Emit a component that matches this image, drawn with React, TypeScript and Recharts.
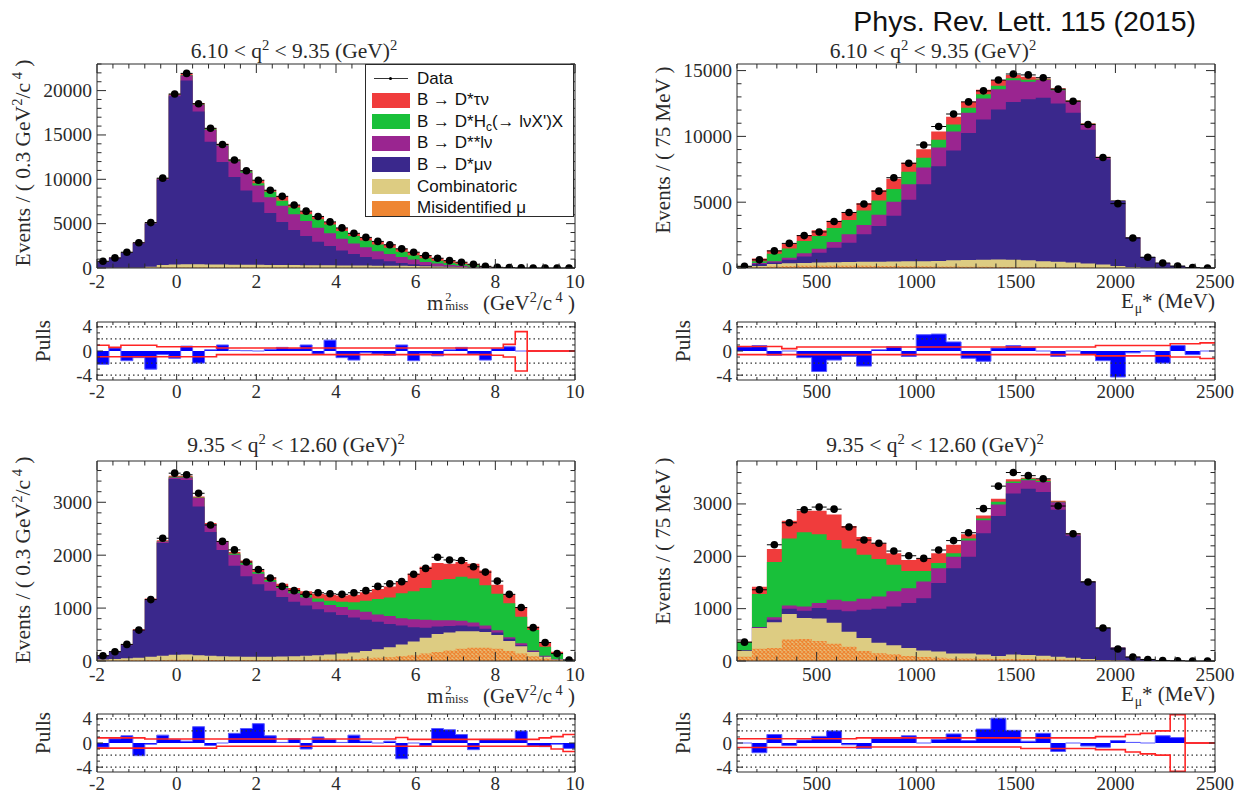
import React from "react";
import {
  ComposedChart,
  Area,
  Line,
  Scatter,
  ErrorBar,
  XAxis,
  YAxis,
  ReferenceLine,
} from "recharts";

// bin edges
const mmEdges = [-2, -1.7, -1.4, -1.1, -0.8, -0.5, -0.2, 0.1, 0.4, 0.7, 1, 1.3, 1.6, 1.9, 2.2, 2.5, 2.8, 3.1, 3.4, 3.7, 4, 4.3, 4.6, 4.9, 5.2, 5.5, 5.8, 6.1, 6.4, 6.7, 7, 7.3, 7.6, 7.9, 8.2, 8.5, 8.8, 9.1, 9.4, 9.7, 10];
const eEdges = [100, 175, 250, 325, 400, 475, 550, 625, 700, 775, 850, 925, 1000, 1075, 1150, 1225, 1300, 1375, 1450, 1525, 1600, 1675, 1750, 1825, 1900, 1975, 2050, 2125, 2200, 2275, 2350, 2425, 2500];

// tick labels
const mmMajor = [-2, 0, 2, 4, 6, 8, 10];
const eMajor = [500, 1000, 1500, 2000, 2500];
const tlYMajor = [0, 5000, 10000, 15000, 20000];
const trYMajor = [0, 5000, 10000, 15000];
const lowYMajor = [0, 1000, 2000, 3000];
const pullMajor = [-4, 0, 4];

// stack edges (top of each layer), 6.10 < q2 < 9.35, m2miss
const tlMisid = [5, 5, 10, 10, 35, 50, 70, 70, 70, 60, 60, 55, 55, 50, 50, 45, 45, 45, 40, 40, 35, 35, 30, 30, 25, 25, 20, 20, 15, 10, 10, 5, 0, 0, 0, 0, 0, 0, 0, 0];
const tlComb = [20, 25, 30, 40, 150, 330, 400, 420, 410, 400, 390, 380, 370, 360, 350, 340, 330, 320, 310, 300, 290, 280, 270, 260, 250, 240, 220, 200, 170, 140, 100, 60, 20, 5, 0, 0, 0, 0, 0, 0];
const tlDmu = [690, 1090, 1720, 2760, 4980, 9950, 19350, 21140, 17650, 14230, 11950, 10250, 8730, 7400, 6190, 5200, 4290, 3600, 2960, 2470, 1970, 1590, 1250, 990, 760, 570, 420, 300, 230, 170, 120, 70, 25, 10, 5, 0, 0, 0, 0, 0];
const tlDss = [710, 1120, 1760, 2820, 5050, 10050, 19500, 21700, 18400, 15560, 13800, 12030, 10740, 9300, 7970, 7020, 6070, 5310, 4550, 3910, 3300, 2770, 2350, 1900, 1590, 1250, 950, 680, 500, 350, 250, 150, 80, 30, 15, 0, 0, 0, 0, 0];
const tlHc = [720, 1130, 1770, 2830, 5070, 10080, 19560, 21760, 18470, 15650, 13900, 12150, 10900, 9560, 8610, 7590, 6830, 6070, 5500, 4900, 4170, 3600, 3110, 2660, 2280, 1820, 1440, 1100, 820, 600, 450, 300, 150, 60, 30, 5, 0, 0, 0, 0];
const tlTau = [740, 1150, 1790, 2860, 5110, 10120, 19620, 21900, 18600, 15770, 14000, 12200, 11000, 9900, 8800, 8080, 7100, 6410, 5810, 5200, 4520, 3910, 3450, 3000, 2620, 2160, 1780, 1400, 1100, 830, 650, 420, 190, 80, 40, 8, 0, 0, 0, 0];
const tlData = [760, 1140, 1780, 2850, 5120, 10130, 19620, 21940, 18520, 15750, 13930, 12180, 10970, 9900, 8770, 8080, 7100, 6410, 5810, 5200, 4520, 3910, 3450, 3000, 2620, 2160, 1780, 1400, 1100, 830, 650, 420, 190, 80, 40, 10, 5, 0, 0, 0];
const tlPull = [-2.2, 0.5, -1.6, -1.1, -3.0, -0.6, -1.2, 0.8, -2.0, 0.2, 1.0, 0.1, 0.05, 0, 0.3, 0.6, 0.4, 1.0, -0.5, 1.8, -1.1, -1.5, -0.3, -0.5, -0.7, 1.0, -1.6, -0.4, -0.8, 0.2, 0.6, -0.5, -1.5, 0.4, 0.7, 0, 0, 0, 0, 0];
const tlBandUp = [0.95, 0.6, 0.95, 0.95, 0.95, 0.7, 0.7, 0.7, 0.7, 0.7, 0.5, 0.5, 0.5, 0.5, 0.5, 0.5, 0.5, 0.5, 0.5, 0.5, 0.5, 0.5, 0.5, 0.5, 0.5, 0.5, 0.5, 0.5, 0.5, 0.5, 0.5, 0.5, 0.5, 0.5, 1.1, 3.2, 0, 0, 0, 0];
const tlBandLo = [-0.95, -0.95, -0.95, -0.95, -0.95, -0.95, -0.95, -0.95, -0.95, -0.95, -0.6, -0.6, -0.6, -0.6, -0.6, -0.6, -0.6, -0.6, -0.6, -0.6, -0.6, -0.6, -0.6, -0.6, -0.6, -0.6, -0.6, -0.6, -0.6, -0.6, -0.6, -0.6, -0.6, -0.7, -1.0, -3.3, 0, 0, 0, 0];

// 6.10 < q2 < 9.35, E_mu*
const trMisid = [20, 60, 120, 150, 170, 180, 180, 180, 170, 160, 150, 140, 130, 120, 110, 100, 90, 80, 70, 60, 50, 40, 30, 30, 20, 10, 5, 0, 0, 0, 0, 0];
const trComb = [40, 150, 310, 360, 380, 410, 440, 460, 470, 480, 500, 510, 520, 540, 580, 600, 620, 640, 620, 580, 520, 480, 420, 350, 260, 150, 60, 20, 0, 0, 0, 0];
const trDmu = [50, 300, 410, 620, 870, 1150, 1540, 1920, 2560, 3200, 3970, 5180, 6360, 7740, 8920, 10260, 11280, 12050, 12620, 12820, 12930, 12500, 11800, 10500, 8250, 5100, 2300, 830, 370, 150, 40, 5];
const trDss = [60, 380, 510, 770, 1130, 1460, 1970, 2560, 3260, 4050, 5030, 6360, 7640, 9150, 10380, 11790, 12870, 13590, 14260, 14150, 14280, 13500, 12650, 10900, 8400, 5130, 2310, 835, 372, 152, 40, 5];
const trHc = [110, 510, 1080, 1490, 2050, 2440, 3030, 3640, 4360, 5130, 6000, 7310, 8380, 9740, 10900, 12180, 13200, 13850, 14410, 14310, 14330, 13580, 12700, 10960, 8430, 5140, 2320, 838, 375, 155, 42, 6];
const trTau = [130, 720, 1330, 1850, 2510, 2870, 3590, 4230, 4920, 5900, 6790, 8000, 9030, 10380, 11490, 12640, 13540, 14280, 14670, 14540, 14400, 13650, 12750, 11000, 8450, 5150, 2330, 840, 380, 160, 42, 8];
const trData = [130, 620, 1300, 1870, 2460, 2740, 3530, 4220, 4860, 5840, 6860, 7960, 9350, 10750, 11700, 12620, 13460, 14280, 14740, 14670, 14460, 13590, 12670, 10900, 8400, 4890, 2280, 820, 380, 150, 30, 0];
const trPull = [0.7, 0.9, -0.7, 0, -1.1, -3.4, -1.5, -0.9, -2.5, 0.2, 0.7, -0.9, 2.7, 2.8, 1.5, -1.2, -1.7, 0.5, 0.9, 0.6, 0, -0.9, 0, -0.6, -1.6, -4.3, -0.3, 0, -2.0, 0.9, -0.6, 0];
const trBandUp = [0.75, 0.75, 0.75, 0.4, 0.65, 0.65, 0.65, 0.65, 0.65, 0.65, 0.65, 0.65, 0.65, 0.65, 0.65, 0.65, 0.65, 0.65, 0.65, 0.65, 0.65, 0.65, 0.65, 0.65, 0.9, 0.9, 0.9, 0.9, 0.9, 1.2, 1.2, 1.35];
const trBandLo = [-0.6, -0.6, -0.6, -0.6, -0.6, -0.6, -0.6, -0.6, -0.6, -0.6, -0.6, -0.6, -0.6, -0.6, -0.6, -0.6, -0.6, -0.6, -0.6, -0.6, -0.6, -0.6, -0.6, -0.6, -0.8, -0.8, -0.8, -0.8, -0.8, -1.0, -1.0, -1.25];

// 9.35 < q2 < 12.60, m2miss
const blMisid = [10, 10, 15, 15, 20, 20, 25, 25, 25, 20, 20, 20, 20, 20, 20, 20, 20, 20, 25, 30, 35, 40, 50, 60, 70, 90, 110, 140, 170, 200, 230, 250, 250, 230, 190, 140, 90, 45, 15, 2];
const blComb = [30, 40, 50, 60, 80, 100, 120, 125, 110, 100, 90, 85, 80, 80, 80, 85, 90, 100, 110, 125, 140, 160, 190, 220, 260, 310, 370, 440, 510, 540, 560, 560, 550, 490, 380, 280, 170, 80, 30, 3];
const blDmu = [95, 170, 300, 570, 1150, 2230, 3440, 3420, 2920, 2440, 2100, 1800, 1600, 1450, 1330, 1210, 1120, 1050, 980, 920, 870, 820, 780, 740, 700, 670, 640, 630, 650, 660, 670, 650, 610, 540, 420, 300, 180, 85, 35, 5];
const blDss = [100, 175, 310, 585, 1165, 2260, 3470, 3470, 3080, 2580, 2250, 2010, 1820, 1650, 1500, 1380, 1280, 1200, 1120, 1060, 1020, 970, 930, 880, 850, 810, 790, 780, 770, 770, 760, 730, 670, 580, 450, 335, 200, 100, 40, 5];
const blHc = [100, 175, 310, 585, 1165, 2265, 3480, 3480, 3090, 2590, 2260, 2030, 1850, 1680, 1530, 1410, 1320, 1250, 1180, 1140, 1120, 1110, 1140, 1170, 1200, 1280, 1320, 1380, 1530, 1550, 1590, 1560, 1430, 1270, 1090, 835, 585, 270, 130, 20];
const blTau = [105, 180, 320, 600, 1180, 2280, 3500, 3500, 3110, 2610, 2270, 2060, 1900, 1720, 1580, 1460, 1380, 1320, 1270, 1250, 1240, 1250, 1300, 1360, 1410, 1500, 1650, 1780, 1850, 1840, 1870, 1840, 1710, 1440, 1260, 1020, 650, 350, 175, 25];
const blData = [100, 176, 314, 584, 1160, 2320, 3550, 3520, 3170, 2570, 2260, 2100, 1870, 1730, 1570, 1410, 1330, 1260, 1290, 1270, 1260, 1290, 1330, 1410, 1460, 1500, 1640, 1750, 1960, 1910, 1900, 1780, 1680, 1510, 1260, 1010, 630, 350, 140, 20];
const blPull = [-0.7, 0.7, 1.2, -2.1, -0.2, 1.3, 0.6, 0.3, 2.7, -0.4, 0, 1.6, 2.4, 3.2, 1.2, 0.1, 0.7, -1.0, 1.0, 0.6, 0.1, 1.3, 0.3, 0, 0.3, -2.6, 0, -0.5, 2.4, 2.2, 1.4, -1.1, 0.6, 0.6, 0.6, 2.0, -0.5, -0.6, -0.2, -0.9];
const blBandUp = [0.85, 0.85, 0.85, 0.85, 0.65, 0.65, 0.65, 0.65, 0.65, 0.65, 0.65, 0.65, 0.65, 0.65, 0.65, 0.65, 0.65, 0.65, 0.65, 0.65, 0.65, 0.65, 0.65, 0.65, 0.65, 0.9, 0.6, 0.6, 0.6, 0.6, 0.6, 0.6, 0.6, 0.6, 0.6, 0.6, 0.6, 0.85, 1.05, 1.4];
const blBandLo = [-0.85, -0.85, -0.85, -0.85, -0.85, -0.85, -0.85, -0.85, -0.85, -0.85, -0.55, -0.55, -0.55, -0.55, -0.55, -0.55, -0.55, -0.55, -0.55, -0.55, -0.55, -0.55, -0.55, -0.55, -0.55, -0.55, -0.55, -0.55, -0.55, -0.55, -0.55, -0.55, -0.55, -0.55, -0.55, -0.55, -0.55, -0.55, -1.0, -1.4];

// 9.35 < q2 < 12.60, E_mu*
const brMisid = [80, 235, 250, 410, 420, 380, 330, 270, 190, 150, 130, 95, 75, 60, 50, 50, 45, 40, 40, 40, 35, 30, 25, 15, 10, 5, 0, 0, 0, 0, 0, 0];
const brComb = [190, 630, 740, 900, 820, 810, 730, 560, 440, 350, 300, 250, 200, 180, 145, 145, 125, 95, 125, 115, 100, 80, 60, 40, 20, 10, 3, 0, 0, 0, 0, 0];
const brDmu = [200, 640, 790, 1000, 960, 1010, 980, 950, 980, 1000, 1040, 1110, 1200, 1490, 1770, 1990, 2440, 2770, 3200, 3290, 3230, 2890, 2390, 1510, 630, 255, 78, 30, 10, 5, 0, 0];
const brDss = [200, 650, 835, 1060, 1040, 1110, 1170, 1140, 1190, 1230, 1330, 1390, 1520, 1770, 1990, 2300, 2690, 2990, 3400, 3450, 3420, 3030, 2420, 1520, 635, 257, 79, 30, 10, 5, 0, 0];
const brHc = [360, 1280, 1890, 2340, 2460, 2420, 2310, 2150, 2030, 1950, 1840, 1720, 1720, 1870, 2060, 2340, 2720, 3040, 3430, 3480, 3440, 3040, 2430, 1525, 638, 258, 79, 30, 10, 5, 0, 0];
const brTau = [370, 1420, 2140, 2680, 2870, 2870, 2800, 2580, 2370, 2250, 2060, 1930, 1960, 2060, 2220, 2420, 2780, 3100, 3470, 3500, 3470, 3060, 2440, 1530, 640, 260, 80, 30, 10, 5, 0, 0];
const brData = [360, 1360, 2220, 2640, 2890, 2940, 2900, 2560, 2310, 2250, 2100, 2010, 1960, 2120, 2300, 2450, 2910, 3340, 3600, 3540, 3480, 2960, 2430, 1510, 630, 230, 75, 30, 10, 5, 0, 0];
const brPull = [0, -1.6, 1.4, -0.4, 0.5, 1.1, 2.0, -0.3, -0.9, 0.8, 0.8, 1.2, 0, 0.6, 1.5, 0.4, 2.3, 4.1, 2.1, 0.3, 1.6, -1.4, 0, -0.5, -0.7, 0.4, 0.1, 0, 1.2, 0.9, 0, 0];
const brBandUp = [0.7, 0.7, 0.7, 0.7, 0.7, 0.7, 0.7, 0.7, 0.85, 0.85, 0.85, 0.85, 0.85, 0.85, 0.85, 0.85, 0.85, 0.85, 0.85, 0.85, 0.85, 0.85, 0.85, 0.85, 1.05, 1.05, 1.4, 1.6, 2.0, 4.7, 0, 0];
const brBandLo = [-0.75, -0.75, -0.75, -0.75, -0.75, -0.75, -0.75, -0.75, -0.65, -0.65, -0.65, -0.65, -0.65, -0.65, -0.65, -0.65, -0.65, -0.65, -0.65, -0.9, -0.9, -0.9, -0.9, -0.9, -1.1, -1.1, -1.5, -1.8, -2.0, -4.7, 0, 0];

const C_TAU = "#F03C3C";
const C_HC = "#19C03A";
const C_DSS = "#9A2590";
const C_DMU = "#3A288C";
const C_COMB = "#DDCC82";
const C_MISID = "#EE8633";
const INK = "#2a2a2a";
const SERIF = "'Liberation Serif', 'DejaVu Serif', serif";
const SANS = "'Liberation Sans', Arial, sans-serif";

const steps = (a: number, b: number, s: number) => {
  const out: number[] = [];
  for (let v = a; v <= b + s / 1000; v += s) out.push(Math.round(v * 1000) / 1000);
  return out;
};

type Side = "bottom" | "top" | "left" | "right";

function makeTick(side: Side, majors: number[], len: number, gap: number, fontSize: number) {
  return (p: any) => {
    const v = Number(p.payload.value);
    const major = majors.some((m) => Math.abs(m - v) < 1e-6);
    const L = major ? len : len * 0.5;
    const { x, y } = p;
    const txt = { fontSize, fontFamily: SERIF, fill: INK } as const;
    if (side === "bottom")
      return (
        <g>
          <line x1={x} x2={x} y1={y} y2={y - L} stroke={INK} />
          {major && (
            <text x={x} y={y + gap} textAnchor="middle" dominantBaseline="central" {...txt}>
              {v}
            </text>
          )}
        </g>
      );
    if (side === "top") return <line x1={x} x2={x} y1={y} y2={y + L} stroke={INK} />;
    if (side === "left")
      return (
        <g>
          <line x1={x} x2={x + L} y1={y} y2={y} stroke={INK} />
          {major && (
            <text x={x - gap} y={y} textAnchor="end" dominantBaseline="central" {...txt}>
              {v}
            </text>
          )}
        </g>
      );
    return <line x1={x} x2={x - L} y1={y} y2={y} stroke={INK} />;
  };
}

function stepRows(edges: number[], series: Record<string, number[]>) {
  return edges.map((x, i) => {
    const row: Record<string, number> = { x };
    for (const k of Object.keys(series)) row[k] = series[k][Math.min(i, series[k].length - 1)];
    return row;
  });
}

type Box = { left: number; top: number; width: number; height: number; margin: { top: number; right: number; bottom: number; left: number } };

function axes(
  xDomain: [number, number],
  yDomain: [number, number],
  xTicks: number[],
  xMajor: number[],
  yTicks: number[],
  yMajor: number[],
  len: number,
  xGap: number,
  bottomH: number,
  fontSize: number
) {
  const common = { tickLine: false, tickSize: 0, tickMargin: 0, interval: 0 as const, allowDataOverflow: true, axisLine: { stroke: INK } };
  return [
    <XAxis key="xb" xAxisId="b" dataKey="x" type="number" domain={xDomain} ticks={xTicks} height={bottomH} tick={makeTick("bottom", xMajor, len, xGap, fontSize)} {...common} />,
    <XAxis key="xt" xAxisId="t" dataKey="x" type="number" orientation="top" domain={xDomain} ticks={xTicks} height={1} tick={makeTick("top", xMajor, len, 0, fontSize)} {...common} />,
    <YAxis key="yl" yAxisId="l" type="number" domain={yDomain} ticks={yTicks} width={60} tick={makeTick("left", yMajor, len, 5, fontSize)} {...common} />,
    <YAxis key="yr" yAxisId="r" type="number" orientation="right" domain={yDomain} ticks={yTicks} width={1} tick={makeTick("right", yMajor, len, 0, fontSize)} {...common} />,
  ];
}

function MainPanel(props: Box & {
  edges: number[];
  layers: { key: string; values: number[]; fill: string }[];
  data: number[];
  xDomain: [number, number];
  yDomain: [number, number];
  xTicks: number[];
  xMajor: number[];
  yTicks: number[];
  yMajor: number[];
}) {
  const series: Record<string, number[]> = {};
  props.layers.forEach((l) => (series[l.key] = l.values));
  const rows = stepRows(props.edges, series);
  const pts = props.data.map((y, i) => ({
    x: (props.edges[i] + props.edges[i + 1]) / 2,
    y,
    ex: (props.edges[i + 1] - props.edges[i]) / 2,
  }));
  return (
    <div style={{ position: "absolute", left: props.left, top: props.top }}>
      <ComposedChart width={props.width} height={props.height} data={rows} margin={props.margin}>
        {axes(props.xDomain, props.yDomain, props.xTicks, props.xMajor, props.yTicks, props.yMajor, 9, 13, 30, 19.5)}
        {props.layers.map((l) => (
          <Area
            key={l.key}
            xAxisId="b"
            yAxisId="l"
            dataKey={l.key}
            type="stepAfter"
            baseValue={0}
            fill={l.fill}
            fillOpacity={1}
            stroke="none"
            dot={false}
            activeDot={false}
            isAnimationActive={false}
          />
        ))}
        <Scatter
          xAxisId="b"
          yAxisId="l"
          data={pts}
          dataKey="y"
          isAnimationActive={false}
          shape={(p: any) => <circle cx={p.cx} cy={p.cy} r={3.8} fill="#000" />}
        >
          <ErrorBar dataKey="ex" direction="x" width={0} stroke="#000" strokeWidth={1} />
        </Scatter>
      </ComposedChart>
    </div>
  );
}

function PullPanel(props: Box & {
  edges: number[];
  pulls: number[];
  up: number[];
  lo: number[];
  xDomain: [number, number];
  xTicks: number[];
  xMajor: number[];
}) {
  const rows = stepRows(props.edges, { p: props.pulls, u: props.up, d: props.lo });
  return (
    <div style={{ position: "absolute", left: props.left, top: props.top }}>
      <ComposedChart width={props.width} height={props.height} data={rows} margin={props.margin}>
        {axes(props.xDomain, [-4.8, 4.8], props.xTicks, props.xMajor, [-4, -3, -2, -1, 0, 1, 2, 3, 4], pullMajor, 6, 11, 25, 19)}
        {[-4, -2, 2, 4].map((v) => (
          <ReferenceLine key={v} xAxisId="b" yAxisId="l" y={v} stroke="#333" strokeDasharray="1.5 3" strokeWidth={1.2} />
        ))}
        <Area
          xAxisId="b"
          yAxisId="l"
          dataKey="p"
          type="stepAfter"
          baseValue={0}
          fill="#0000FF"
          fillOpacity={1}
          stroke="#5a5aff"
          strokeWidth={1}
          dot={false}
          activeDot={false}
          isAnimationActive={false}
        />
        <Line xAxisId="b" yAxisId="l" dataKey="u" type="stepAfter" stroke="#FF2424" strokeWidth={1.6} dot={false} activeDot={false} isAnimationActive={false} />
        <Line xAxisId="b" yAxisId="l" dataKey="d" type="stepAfter" stroke="#FF2424" strokeWidth={1.6} dot={false} activeDot={false} isAnimationActive={false} />
      </ComposedChart>
    </div>
  );
}

const layersOf = (tau: number[], hc: number[], dss: number[], dmu: number[], comb: number[], misid: number[]) => [
  { key: "tau", values: tau, fill: C_TAU },
  { key: "hc", values: hc, fill: C_HC },
  { key: "dss", values: dss, fill: C_DSS },
  { key: "dmu", values: dmu, fill: C_DMU },
  { key: "comb", values: comb, fill: C_COMB },
  { key: "misid", values: misid, fill: "url(#misidHatch)" },
];

const abs = (left: number, top: number, extra: React.CSSProperties = {}): React.CSSProperties => ({
  position: "absolute",
  left,
  top,
  whiteSpace: "nowrap",
  ...extra,
});

function Rot({ x, y, size, children }: { x: number; y: number; size: number; children: React.ReactNode }) {
  return (
    <div
      style={abs(x, y, {
        transform: "translate(-50%, -50%) rotate(-90deg)",
        fontFamily: SERIF,
        fontSize: size,
        color: INK,
        lineHeight: 1,
      })}
    >
      {children}
    </div>
  );
}

function Title({ x, y, children }: { x: number; y: number; children: React.ReactNode }) {
  return (
    <div style={abs(x, y, { transform: "translate(-50%, -50%)", fontFamily: SERIF, fontSize: 21.5, color: INK, lineHeight: 1 })}>
      {children}
    </div>
  );
}

function XTitle({ right, y, children }: { right: number; y: number; children: React.ReactNode }) {
  return (
    <div style={{ position: "absolute", right: 1240 - right, top: y, transform: "translateY(-50%)", fontFamily: SERIF, fontSize: 21, color: INK, whiteSpace: "nowrap", lineHeight: 1 }}>
      {children}
    </div>
  );
}

const sup = (t: string) => <sup style={{ fontSize: "0.68em", lineHeight: 0 }}>{t}</sup>;
const mMiss = (
  <span>
    m
    <span style={{ display: "inline-block", position: "relative", width: "1.8em", height: "1em", marginLeft: 2 }}>
      <span style={{ position: "absolute", left: 0, top: "0.12em", fontSize: "0.6em", lineHeight: 1 }}>2</span>
      <span style={{ position: "absolute", left: 0, top: "0.86em", fontSize: "0.6em", lineHeight: 1 }}>miss</span>
    </span>
    (GeV{sup("2")}/c{sup(" 4")} )
  </span>
);
const eMu = (
  <span>
    E<sub style={{ fontSize: "0.65em", lineHeight: 0, marginLeft: 1 }}>μ</sub>* (MeV)
  </span>
);
const yMm = <span>Events / ( 0.3 GeV{sup("2")}/c{sup(" 4")} )</span>;
const yE = <span>Events / ( 75 MeV )</span>;

const legendRows: { label: React.ReactNode; color?: string }[] = [
  { label: "Data" },
  { label: "B → D*τν", color: C_TAU },
  { label: <span>B → D*H<sub style={{ fontSize: "0.7em", lineHeight: 0 }}>c</sub>(→ lνX')X</span>, color: C_HC },
  { label: "B → D**lν", color: C_DSS },
  { label: "B → D*μν", color: C_DMU },
  { label: "Combinatoric", color: C_COMB },
  { label: "Misidentified μ", color: C_MISID },
];

function Legend() {
  return (
    <div style={abs(365, 64, { width: 207, height: 151, border: `1.5px solid ${INK}`, background: "#fff", fontFamily: SANS, fontSize: 17, color: "#111" })}>
      {legendRows.map((r, i) => (
        <div key={i} style={{ position: "absolute", left: 0, top: 3 + i * 21.6, height: 21, display: "flex", alignItems: "center" }}>
          <div style={{ width: 38, height: 15, marginLeft: 6, position: "relative", background: r.color ?? "transparent" }}>
            {!r.color && (
              <>
                <div style={{ position: "absolute", left: 2, right: 2, top: 7, height: 1.2, background: "#333" }} />
                <div style={{ position: "absolute", left: 17, top: 6, width: 3, height: 3, borderRadius: 2, background: "#000" }} />
              </>
            )}
          </div>
          <span style={{ marginLeft: 7 }}>{r.label}</span>
        </div>
      ))}
    </div>
  );
}

export default function App() {
  const mmTicks = steps(-2, 10, 0.4);
  const eTicks = steps(100, 2500, 100);
  const tlYTicks = steps(0, 23000, 1000);
  const trYTicks = steps(0, 15000, 1000);
  const lowYTicks = steps(0, 3600, 200);

  const mainTop = { top: 63, right: 44, bottom: 12, left: 37 };
  const mainTopR = { top: 63, right: 44, bottom: 12, left: 57 };
  const mainBot = { top: 60, right: 44, bottom: 14, left: 37 };
  const mainBotR = { top: 60, right: 44, bottom: 14, left: 57 };
  const pullL = { top: 11, right: 44, bottom: 5, left: 37 };
  const pullR = { top: 11, right: 44, bottom: 5, left: 57 };

  return (
    <div style={{ position: "absolute", left: 0, top: 0, width: 1240, height: 792, background: "#fff", overflow: "hidden" }}>
      <svg width={0} height={0} style={{ position: "absolute" }}>
        <defs>
          <pattern id="misidHatch" width={4} height={4} patternUnits="userSpaceOnUse">
            <rect width={4} height={4} fill="#E8C07A" />
            <path d="M0,0 L4,4 M4,0 L0,4" stroke={C_MISID} strokeWidth={1.3} />
          </pattern>
        </defs>
      </svg>

      <div style={{ position: "absolute", right: 1240 - 1196, top: 5, fontFamily: SANS, fontSize: 28.5, color: "#111", whiteSpace: "nowrap", lineHeight: 1.15 }}>
        Phys. Rev. Lett. 115 (2015)
      </div>

      <MainPanel left={0} top={0} width={620} height={310} margin={mainTop} edges={mmEdges}
        layers={layersOf(tlTau, tlHc, tlDss, tlDmu, tlComb, tlMisid)} data={tlData}
        xDomain={[-2, 10]} yDomain={[0, 23000]} xTicks={mmTicks} xMajor={mmMajor} yTicks={tlYTicks} yMajor={tlYMajor} />
      <MainPanel left={620} top={0} width={640} height={310} margin={mainTopR} edges={eEdges}
        layers={layersOf(trTau, trHc, trDss, trDmu, trComb, trMisid)} data={trData}
        xDomain={[100, 2500]} yDomain={[0, 15500]} xTicks={eTicks} xMajor={eMajor} yTicks={trYTicks} yMajor={trYMajor} />
      <MainPanel left={0} top={400} width={620} height={305} margin={mainBot} edges={mmEdges}
        layers={layersOf(blTau, blHc, blDss, blDmu, blComb, blMisid)} data={blData}
        xDomain={[-2, 10]} yDomain={[0, 3780]} xTicks={mmTicks} xMajor={mmMajor} yTicks={lowYTicks} yMajor={lowYMajor} />
      <MainPanel left={620} top={400} width={640} height={305} margin={mainBotR} edges={eEdges}
        layers={layersOf(brTau, brHc, brDss, brDmu, brComb, brMisid)} data={brData}
        xDomain={[100, 2500]} yDomain={[0, 3820]} xTicks={eTicks} xMajor={eMajor} yTicks={lowYTicks} yMajor={lowYMajor} />

      <PullPanel left={0} top={310} width={620} height={100} margin={pullL} edges={mmEdges}
        pulls={tlPull} up={tlBandUp} lo={tlBandLo} xDomain={[-2, 10]} xTicks={mmTicks} xMajor={mmMajor} />
      <PullPanel left={620} top={310} width={640} height={100} margin={pullR} edges={eEdges}
        pulls={trPull} up={trBandUp} lo={trBandLo} xDomain={[100, 2500]} xTicks={eTicks} xMajor={eMajor} />
      <PullPanel left={0} top={702} width={620} height={100} margin={pullL} edges={mmEdges}
        pulls={blPull} up={blBandUp} lo={blBandLo} xDomain={[-2, 10]} xTicks={mmTicks} xMajor={mmMajor} />
      <PullPanel left={620} top={702} width={640} height={100} margin={pullR} edges={eEdges}
        pulls={brPull} up={brBandUp} lo={brBandLo} xDomain={[100, 2500]} xTicks={eTicks} xMajor={eMajor} />

      <Legend />

      <Title x={294} y={52}>6.10 &lt; q{sup("2")} &lt; 9.35 (GeV){sup("2")}</Title>
      <Title x={933} y={52}>6.10 &lt; q{sup("2")} &lt; 9.35 (GeV){sup("2")}</Title>
      <Title x={296} y={446}>9.35 &lt; q{sup("2")} &lt; 12.60 (GeV){sup("2")}</Title>
      <Title x={935} y={446}>9.35 &lt; q{sup("2")} &lt; 12.60 (GeV){sup("2")}</Title>

      <Rot x={24} y={163} size={21.5}>{yMm}</Rot>
      <Rot x={663} y={150} size={21}>{yE}</Rot>
      <Rot x={24} y={560} size={21.5}>{yMm}</Rot>
      <Rot x={663} y={541} size={21}>{yE}</Rot>

      <Rot x={43} y={341} size={21}>Pulls</Rot>
      <Rot x={683} y={341} size={21}>Pulls</Rot>
      <Rot x={43} y={733} size={21}>Pulls</Rot>
      <Rot x={683} y={733} size={21}>Pulls</Rot>

      <XTitle right={575} y={301}>{mMiss}</XTitle>
      <XTitle right={1215} y={301}>{eMu}</XTitle>
      <XTitle right={575} y={694}>{mMiss}</XTitle>
      <XTitle right={1215} y={694}>{eMu}</XTitle>
    </div>
  );
}
